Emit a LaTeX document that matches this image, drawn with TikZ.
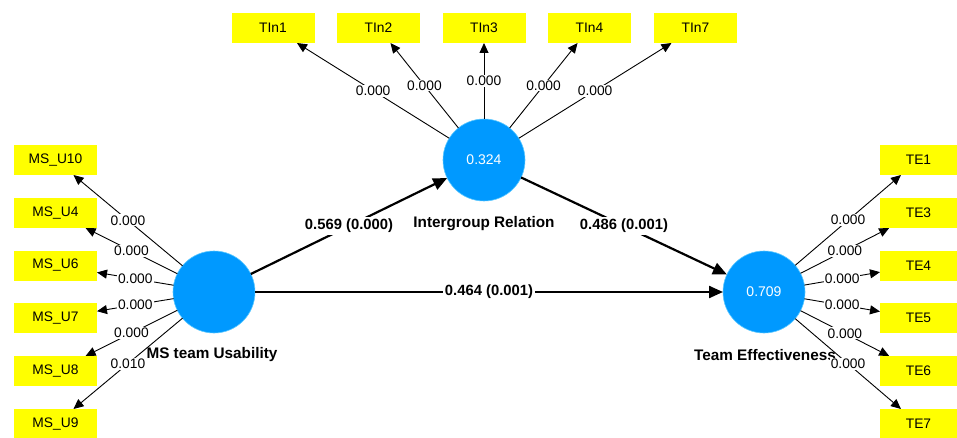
\documentclass[tikz,border=0pt]{standalone}
\usepackage{fontspec}
\setmainfont{Liberation Sans}
\usetikzlibrary{arrows.meta}
\definecolor{plsyellow}{RGB}{255,255,0}
\definecolor{plsblue}{RGB}{0,153,255}
\definecolor{plsedge}{RGB}{90,200,255}
\begin{document}
\begin{tikzpicture}[x=1pt,y=-1pt,
  indbox/.style={fill=plsyellow, minimum width=83pt, minimum height=30pt, inner sep=0pt, outer sep=0pt, font=\fontsize{13.8}{15}\selectfont},
  rbox/.style={indbox, minimum width=77pt},
  latent/.style={circle, fill=plsblue, draw=plsedge, line width=0.6pt, minimum size=82pt, inner sep=0pt, outer sep=0pt, text=white, font=\fontsize{14}{16}\selectfont},
  cname/.style={font=\bfseries\fontsize{15.3}{17}\selectfont, inner sep=0pt},
  loading/.style={draw=black, line width=0.9pt, -{Triangle[length=10pt,width=9pt]}},
  strpath/.style={draw=black, line width=2.2pt, -{Triangle[length=14pt,width=12pt]}},
  lval/.style={fill=white, inner sep=1pt, font=\fontsize{13.8}{15}\selectfont},
  sval/.style={fill=white, inner sep=2pt, font=\bfseries\fontsize{14.8}{16}\selectfont}
]
\useasboundingbox (0,0) rectangle (957,438);

% latent variables
\node[latent] (ir) at (484,160) {0.324};
\node[latent] (ms) at (214,292) {};
\node[latent] (te) at (764,292) {0.709};

% top indicators
\node[indbox] (t1) at (273,28) {TIn1};
\node[indbox] (t2) at (378.5,28) {TIn2};
\node[indbox] (t3) at (484,28) {TIn3};
\node[indbox] (t4) at (589.5,28) {TIn4};
\node[indbox] (t7) at (695.5,28) {TIn7};

% left indicators
\node[indbox] (m10) at (55.5,160) {MS\_U10};
\node[indbox] (m4) at (55.5,213) {MS\_U4};
\node[indbox] (m6) at (55.5,265.5) {MS\_U6};
\node[indbox] (m7) at (55.5,318) {MS\_U7};
\node[indbox] (m8) at (55.5,371) {MS\_U8};
\node[indbox] (m9) at (55.5,424) {MS\_U9};

% right indicators
\node[rbox] (e1) at (918.5,160) {TE1};
\node[rbox] (e3) at (918.5,213) {TE3};
\node[rbox] (e4) at (918.5,265.5) {TE4};
\node[rbox] (e5) at (918.5,318) {TE5};
\node[rbox] (e6) at (918.5,371) {TE6};
\node[rbox] (e7) at (918.5,424) {TE7};

% construct names
\node[cname] (irname) at (484,224) {Intergroup Relation};
\node[cname] (msname) at (212,355) {MS team Usability};
\node[cname] (tename) at (765,355) {Team Effectiveness};

% structural paths
\draw[strpath] (ms) -- node[sval, midway] {0.569 (0.000)} (ir);
\draw[strpath] (ir) -- node[sval, midway] {0.486 (0.001)} (te);
\draw[strpath] (ms) -- node[sval, midway] {0.464 (0.001)} (te);

% top loadings
\draw[loading] (ir) -- node[lval, midway] {0.000} (t1);
\draw[loading] (ir) -- node[lval, midway] {0.000} (t2);
\draw[loading] (ir) -- node[lval, midway] {0.000} (t3);
\draw[loading] (ir) -- node[lval, midway] {0.000} (t4);
\draw[loading] (ir) -- node[lval, midway] {0.000} (t7);

% left loadings
\draw[loading] (ms) -- node[lval, midway] {0.000} (m10);
\draw[loading] (ms) -- node[lval, midway] {0.000} (m4);
\draw[loading] (ms) -- node[lval, midway] {0.000} (m6);
\draw[loading] (ms) -- node[lval, midway] {0.000} (m7);
\draw[loading] (ms) -- node[lval, midway] {0.000} (m8);
\draw[loading] (ms) -- node[lval, midway] {0.010} (m9);

% right loadings
\draw[loading] (te) -- node[lval, midway] {0.000} (e1);
\draw[loading] (te) -- node[lval, midway] {0.000} (e3);
\draw[loading] (te) -- node[lval, midway] {0.000} (e4);
\draw[loading] (te) -- node[lval, midway] {0.000} (e5);
\draw[loading] (te) -- node[lval, midway] {0.000} (e6);
\draw[loading] (te) -- node[lval, midway] {0.000} (e7);
\end{tikzpicture}
\end{document}
